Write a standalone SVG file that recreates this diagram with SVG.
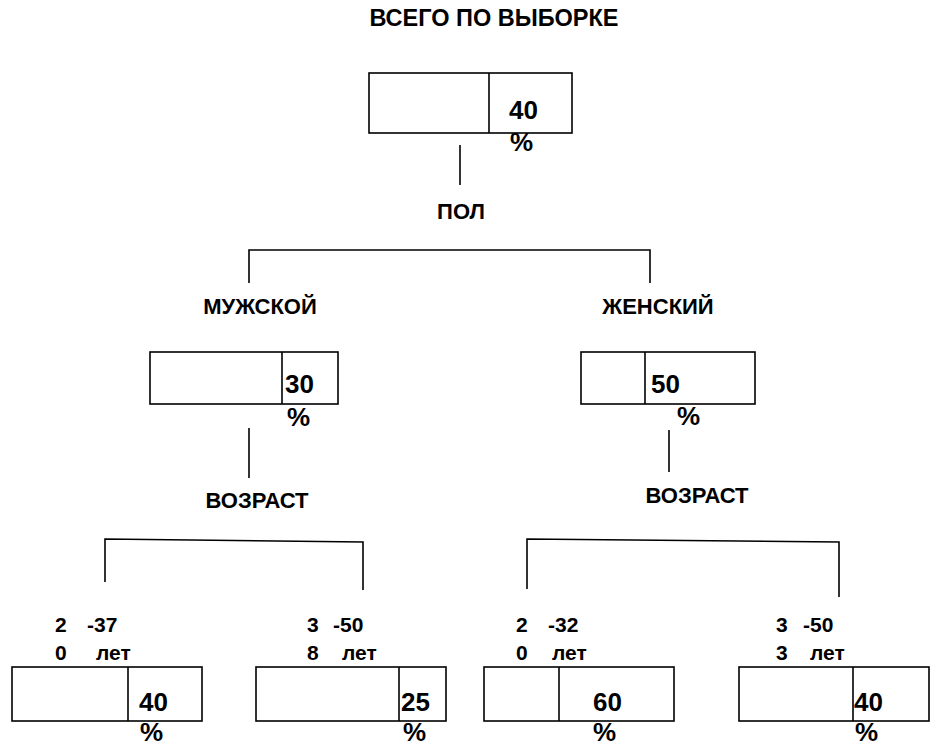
<svg xmlns="http://www.w3.org/2000/svg" width="932" height="750" viewBox="0 0 932 750">
<style>
text{font-family:"Liberation Sans",Arial,sans-serif;font-weight:bold;fill:#000}
.t{font-size:22px;text-anchor:middle}
.h{font-size:23.5px;text-anchor:middle}
.n{font-size:26px}
.l{font-size:21px}
.b{fill:#fff;stroke:#000;stroke-width:1.6}
.c{fill:none;stroke:#000;stroke-width:1.6}
</style>
<rect width="932" height="750" fill="#fff"/>
<g id="connectors">
<line class="c" x1="460" y1="145" x2="460" y2="185"/>
<polyline class="c" points="249,283 249,250 650,250 650,283"/>
<line class="c" x1="249" y1="428" x2="249" y2="478"/>
<line class="c" x1="669" y1="430" x2="669" y2="472"/>
<polyline class="c" points="105,582 105,539 363,542 363,590"/>
<polyline class="c" points="527,589 527,539 839,542 839,597"/>
</g>
<g id="title"><text class="h" x="494" y="26">ВСЕГО ПО ВЫБОРКЕ</text></g>
<g id="total">
<rect class="b" x="369" y="73" width="203" height="60"/>
<line class="c" x1="489" y1="73" x2="489" y2="133"/>
<text class="n" x="509" y="119">40</text>
<text class="n" x="510" y="151">%</text>
</g>
<g id="pol"><text class="t" x="461" y="219">ПОЛ</text></g>
<g id="male-label"><text class="t" x="260" y="314">МУЖСКОЙ</text></g>
<g id="female-label"><text class="t" x="658" y="314">ЖЕНСКИЙ</text></g>
<g id="male">
<rect class="b" x="150" y="352" width="188" height="52"/>
<line class="c" x1="282" y1="352" x2="282" y2="404"/>
<text class="n" x="285" y="393">30</text>
<text class="n" x="287" y="426">%</text>
</g>
<g id="female">
<rect class="b" x="581" y="352" width="174" height="52"/>
<line class="c" x1="645" y1="352" x2="645" y2="404"/>
<text class="n" x="651" y="393">50</text>
<text class="n" x="677" y="425">%</text>
</g>
<g id="age-male"><text class="t" x="257" y="508">ВОЗРАСТ</text></g>
<g id="age-female"><text class="t" x="697" y="503">ВОЗРАСТ</text></g>
<g id="m-20-37">
<text class="l" x="55" y="632">2</text><text class="l" x="87" y="632">-37</text>
<text class="l" x="55" y="660">0</text><text class="l" x="96" y="660">лет</text>
<rect class="b" x="12" y="667" width="190" height="54"/>
<line class="c" x1="128" y1="667" x2="128" y2="721"/>
<text class="n" x="139" y="711">40</text>
<text class="n" x="140" y="741">%</text>
</g>
<g id="m-38-50">
<text class="l" x="307" y="632">3</text><text class="l" x="333" y="632">-50</text>
<text class="l" x="307" y="660">8</text><text class="l" x="342" y="660">лет</text>
<rect class="b" x="256" y="667" width="190" height="54"/>
<line class="c" x1="399" y1="667" x2="399" y2="721"/>
<text class="n" x="401" y="711">25</text>
<text class="n" x="403" y="741">%</text>
</g>
<g id="f-20-32">
<text class="l" x="516" y="632">2</text><text class="l" x="548" y="632">-32</text>
<text class="l" x="516" y="660">0</text><text class="l" x="552" y="660">лет</text>
<rect class="b" x="484" y="667" width="190" height="54"/>
<line class="c" x1="559" y1="667" x2="559" y2="721"/>
<text class="n" x="593" y="711">60</text>
<text class="n" x="593" y="741">%</text>
</g>
<g id="f-33-50">
<text class="l" x="776" y="632">3</text><text class="l" x="803" y="632">-50</text>
<text class="l" x="776" y="660">3</text><text class="l" x="810" y="660">лет</text>
<rect class="b" x="739" y="667" width="190" height="54"/>
<line class="c" x1="853" y1="667" x2="853" y2="721"/>
<text class="n" x="854" y="711">40</text>
<text class="n" x="855" y="741">%</text>
</g>
</svg>
